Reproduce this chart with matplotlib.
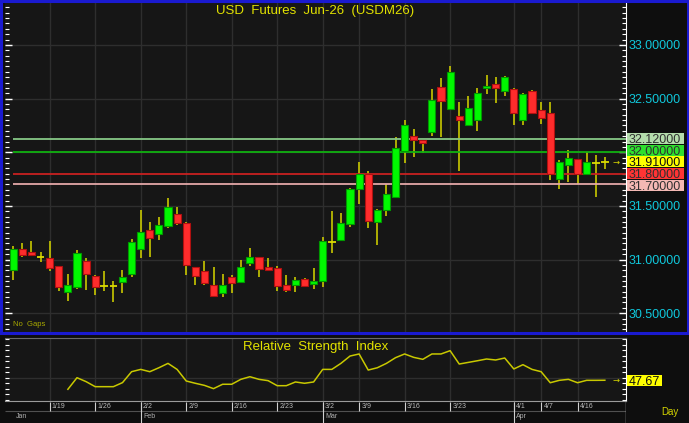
import matplotlib
matplotlib.use("Agg")
import matplotlib.pyplot as plt
from matplotlib.patches import Rectangle
from matplotlib.ticker import MultipleLocator, FixedLocator
import numpy as np

plt.rcParams['font.family'] = ['Liberation Sans', 'DejaVu Sans']

# ---- data ----
dates = ['1/13', '1/14', '1/15', '1/16',
         '1/19', '1/20', '1/21', '1/22', '1/23',
         '1/26', '1/27', '1/28', '1/29', '1/30',
         '2/2', '2/3', '2/4', '2/5', '2/6',
         '2/9', '2/10', '2/11', '2/12', '2/13',
         '2/16', '2/17', '2/18', '2/19', '2/20',
         '2/23', '2/24', '2/25', '2/26', '2/27',
         '3/2', '3/4', '3/5', '3/6',
         '3/9', '3/10', '3/11', '3/12', '3/13',
         '3/16', '3/17', '3/18', '3/19', '3/20',
         '3/23', '3/24', '3/25', '3/26', '3/27',
         '3/30', '3/31',
         '4/1', '4/2', '4/3',
         '4/7', '4/8', '4/9', '4/10',
         '4/16', '4/17', '4/20', '4/21']

opens = [30.90, 31.10, 31.07, 31.02, 31.01, 30.94, 30.70, 30.74, 30.99, 30.85,
         30.75, 30.75, 30.79, 30.87, 31.10, 31.28, 31.24, 31.31, 31.42, 31.34,
         30.93, 30.89, 30.76, 30.69, 30.84, 30.79, 30.97, 31.02, 30.93, 30.92,
         30.76, 30.76, 30.82, 30.77, 30.80, 31.16, 31.18, 31.33, 31.66, 31.80,
         31.35, 31.46, 31.58, 32.01, 32.15, 32.11, 32.19, 32.61, 32.40, 32.34,
         32.25, 32.30, 32.60, 32.64, 32.57, 32.59, 32.30, 32.57, 32.39, 32.37,
         31.75, 31.88, 31.94, 31.80, 31.90, 31.91]
highs = [31.13, 31.15, 31.17, 31.07, 31.17, 30.94, 30.87, 31.09, 31.01, 30.86,
         30.89, 30.80, 30.90, 31.19, 31.46, 31.35, 31.40, 31.57, 31.49, 31.35,
         30.93, 30.99, 30.93, 30.87, 30.86, 31.00, 31.11, 31.02, 31.01, 30.94,
         30.86, 30.84, 30.83, 30.92, 31.21, 31.45, 31.43, 31.67, 31.91, 31.83,
         31.47, 31.70, 32.14, 32.30, 32.22, 32.11, 32.59, 32.69, 32.80, 32.47,
         32.52, 32.60, 32.72, 32.70, 32.71, 32.60, 32.55, 32.58, 32.47, 32.47,
         31.93, 32.02, 31.94, 32.00, 31.97, 31.96]
lows = [30.81, 31.02, 31.03, 30.98, 30.89, 30.71, 30.61, 30.73, 30.72, 30.67,
        30.71, 30.60, 30.69, 30.84, 31.01, 31.02, 31.18, 31.29, 31.32, 30.86,
        30.76, 30.76, 30.65, 30.65, 30.69, 30.78, 30.94, 30.84, 30.89, 30.71,
        30.70, 30.70, 30.75, 30.73, 30.74, 31.06, 31.17, 31.30, 31.52, 31.29,
        31.14, 31.41, 31.58, 31.90, 31.96, 31.99, 32.15, 32.14, 32.39, 31.83,
        32.25, 32.20, 32.54, 32.46, 32.52, 32.25, 32.25, 32.36, 32.26, 31.74,
        31.66, 31.72, 31.70, 31.80, 31.58, 31.84]
closes = [31.10, 31.04, 31.04, 31.02, 30.92, 30.74, 30.76, 31.06, 30.87, 30.74,
          30.75, 30.75, 30.84, 31.16, 31.26, 31.20, 31.32, 31.49, 31.34, 30.95,
          30.85, 30.78, 30.66, 30.76, 30.78, 30.93, 31.02, 30.91, 30.90, 30.75,
          30.72, 30.81, 30.75, 30.80, 31.17, 31.16, 31.34, 31.66, 31.80, 31.36,
          31.46, 31.61, 32.04, 32.25, 32.11, 32.09, 32.49, 32.48, 32.75, 32.30,
          32.41, 32.55, 32.62, 32.60, 32.70, 32.37, 32.54, 32.37, 32.32, 31.80,
          31.91, 31.95, 31.80, 31.91, 31.90, 31.91]

rsi = [None, None, None, None, None, None,
       39.4, 50.0, 46.4, 41.8, 41.8, 41.8, 45.5, 55.5, 57.6, 55.5,
       59.1, 63.1, 57.6, 47.0, 44.9, 43.0, 40.0, 44.0, 44.0, 48.5,
       50.9, 48.5, 47.3, 42.7, 42.7, 46.1, 44.9, 46.1, 57.6, 57.6,
       63.1, 69.8, 71.7, 57.0, 59.1, 63.1, 68.3, 71.7, 68.6, 66.8,
       71.7, 71.7, 74.7, 62.5, 64.0, 65.5, 67.1, 66.2, 68.0, 58.0,
       61.9, 57.6, 55.5, 45.4, 47.6, 48.5, 45.4, 47.6, 47.6, 47.67]

week_labels = ['1/19', '1/26', '2/2', '2/9', '2/16', '2/23', '3/2',
               '3/9', '3/16', '3/23', '4/1', '4/7', '4/16']
month_labels = ['Jan', 'Feb', 'Mar', 'Apr']

levels = [32.12, 32.00, 31.80, 31.70]
level_line_colors = ['#86c886', '#10b010', '#c82020', '#e4a8a8']
level_box_colors = ['#b4dcac', '#2ee02e', '#ff3434', '#f4b8b4']
last_price = closes[-1]
last_rsi = rsi[-1]

# ---- figure ----
W, H = 689, 423
fig = plt.figure(figsize=(W / 100, H / 100), dpi=100, facecolor='#0e0e0e')


def px_axes(x0, y0, x1, y1):
    return fig.add_axes([x0 / W, 1 - y1 / H, (x1 - x0) / W, (y1 - y0) / H])


n = len(dates)
x = np.arange(n)
xlim = (-0.91, 67.27)
week_pos = [dates.index(d) for d in week_labels]
month_pos = [0] + [i for i in range(1, n) if dates[i].split('/')[0] != dates[i - 1].split('/')[0]]

bg = '#161616'
grid_c = '#2e2e2e'
wick_c = '#c8c800'
plot_w = 620.5  # px width of the panels


def value_box(axis, yval, text, fc, tc, px_per_unit, width_px):
    # flat coloured tag just right of the axis line
    tr = axis.get_yaxis_transform()
    x0 = 1.0024
    h = 11 / px_per_unit
    axis.add_patch(Rectangle((x0, yval - h / 2), width_px / plot_w, h, transform=tr,
                             fc=fc, ec='none', clip_on=False, zorder=6))
    axis.text(x0 + 1.5 / plot_w, yval, text, transform=tr, ha='left',
              va='center_baseline', fontsize=9, color=tc, zorder=7, clip_on=False)


# right-hand price tags, stacked around the last price
px_per_price = 107.3
gap = 11.6 / px_per_price
above = sorted([lv for lv in levels if lv > last_price])
below = sorted([lv for lv in levels if lv < last_price], reverse=True)
label_y = {}
prev = last_price
for lv in above:
    prev = max(lv, prev + gap)
    label_y[lv] = prev
prev = last_price
for lv in below:
    prev = min(lv, prev - gap)
    label_y[lv] = prev
tag_y = list(label_y.values()) + [last_price]


def price_fmt(v, pos):
    # axis numbers that sit under a tag are hidden in the original
    if any(abs(v - t) < 0.08 for t in tag_y):
        return ''
    return f'{v:.5f}'


# main price panel
ax = px_axes(5, 3, 625.5, 332)
ax.set_facecolor(bg)
ax.set_xlim(*xlim)
ax.set_ylim(30.325, 33.391)
for s in ['left', 'top', 'bottom']:
    ax.spines[s].set_visible(False)
ax.spines['right'].set_color('white')
ax.xaxis.set_major_locator(FixedLocator(week_pos))
ax.tick_params(axis='x', length=0, labelbottom=False)
ax.yaxis.set_major_locator(MultipleLocator(0.5))
ax.yaxis.set_minor_locator(MultipleLocator(0.05))
ax.yaxis.set_major_formatter(price_fmt)
ax.tick_params(axis='y', which='both', direction='in', left=True, right=True,
               labelleft=False, labelright=True, colors='white',
               labelcolor='#10c8dc', labelsize=9, pad=2)
ax.tick_params(axis='y', which='major', length=5, width=1)
ax.tick_params(axis='y', which='minor', length=3, width=0.8)
ax.grid(True, which='major', color=grid_c, lw=1)
ax.set_axisbelow(True)

o = np.array(opens); c = np.array(closes)
ax.vlines(x, lows, highs, color=wick_c, lw=1.2, zorder=2)
up = c > o
down = c < o
flat = c == o
ax.bar(x[up], (c - o)[up], bottom=o[up], width=0.78, color='#00f800',
       edgecolor='#009a00', lw=0.8, zorder=3)
ax.bar(x[down], (o - c)[down], bottom=c[down], width=0.78, color='#ff2c2c',
       edgecolor='#b01010', lw=0.8, zorder=3)
ax.hlines(c[flat], x[flat] - 0.42, x[flat] + 0.42, color='#dcdc00', lw=1.3, zorder=3)

for lv, lc in zip(levels, level_line_colors):
    ax.hlines(lv, -0.07, xlim[1], color=lc, lw=1.3, zorder=2.5)

for lv, bc in zip(levels, level_box_colors):
    value_box(ax, label_y[lv], f'{lv:.5f}', bc, '#303030', px_per_price, 57)
value_box(ax, last_price, f'{last_price:.5f}', '#ffff00', '#101010', px_per_price, 57)
ax.text(66.2, last_price, '→', ha='center', va='center', fontsize=6,
        color='#d8d800', family=['DejaVu Sans'])

ax.text(0.5, 0.976, 'USD  Futures  Jun-26  (USDM26)', transform=ax.transAxes,
        ha='center', va='center', fontsize=9.5, color='#e2e200')
ax.text(0.013, 0.012, 'No  Gaps', transform=ax.transAxes, ha='left', va='bottom',
        fontsize=5.5, color='#a8a800')

# blue frame round the price panel
fig.patches.append(Rectangle((1.2 / W, 1 - 333 / H), (W - 2.4) / W, 331.8 / H,
                             transform=fig.transFigure, fill=False,
                             edgecolor='#1a1ad0', lw=2.2, zorder=10))

# RSI panel
ar = px_axes(5, 338, 625.5, 401)
ar.set_facecolor(bg)
ar.set_xlim(*xlim)
ar.set_ylim(28.7, 86.3)
ar.spines['left'].set_visible(False)
ar.spines['top'].set_color('#6a6a6a')
ar.spines['bottom'].set_color('#9a9a9a')
ar.spines['right'].set_color('white')
ar.xaxis.set_major_locator(FixedLocator(week_pos))
ar.tick_params(axis='x', length=0, labelbottom=False)
ar.yaxis.set_major_locator(FixedLocator([50]))
ar.yaxis.set_minor_locator(MultipleLocator(5))
ar.tick_params(axis='y', which='both', direction='in', left=True, right=True,
               labelleft=False, labelright=False, colors='white', length=3, width=0.8)
ar.grid(True, which='major', color=grid_c, lw=1)
ar.set_axisbelow(True)
rx = [i for i in range(n) if rsi[i] is not None]
ry = [rsi[i] for i in rx]
ar.plot(rx, ry, color='#c8c800', lw=1.1)
ar.text(0.5, 0.86, 'Relative  Strength  Index', transform=ar.transAxes,
        ha='center', va='center', fontsize=9.5, color='#e2e200')
value_box(ar, last_rsi, f'{last_rsi:.2f}', '#ffff00', '#101010', 1.094, 35)
ar.text(66.2, last_rsi, '→', ha='center', va='center', fontsize=6,
        color='#d8d800', family=['DejaVu Sans'])

# date axis
ad = px_axes(5, 401, 625.5, 423)
ad.set_facecolor('#0c0c0c')
ad.set_xlim(*xlim)
ad.set_ylim(22, 0)
ad.axis('off')
ad.hlines(9.7, xlim[0], xlim[1], color='#505050', lw=0.8)
ad.vlines(week_pos, 0.5, 9.7, color='#d0d0d0', lw=0.8)
for p, lbl in zip(week_pos, week_labels):
    ad.text(p + 0.25, 5.6, lbl, ha='left', va='center', fontsize=5, color='#b8b8b8')
ad.vlines(month_pos[1:], 0.5, 22, color='#d0d0d0', lw=0.8)
for p, lbl in zip(month_pos, month_labels):
    ad.text(p + 0.25, 15.2, lbl, ha='left', va='center', fontsize=5, color='#b0b0b0')
ad.vlines(xlim[1], 0, 22, color='#c0c0c0', lw=1)

fig.text(661 / W, 1 - 411.5 / H, 'Day', ha='left', va='center', fontsize=7,
         color='#d4d400')

fig.savefig('out.png', dpi=100, facecolor=fig.get_facecolor())
